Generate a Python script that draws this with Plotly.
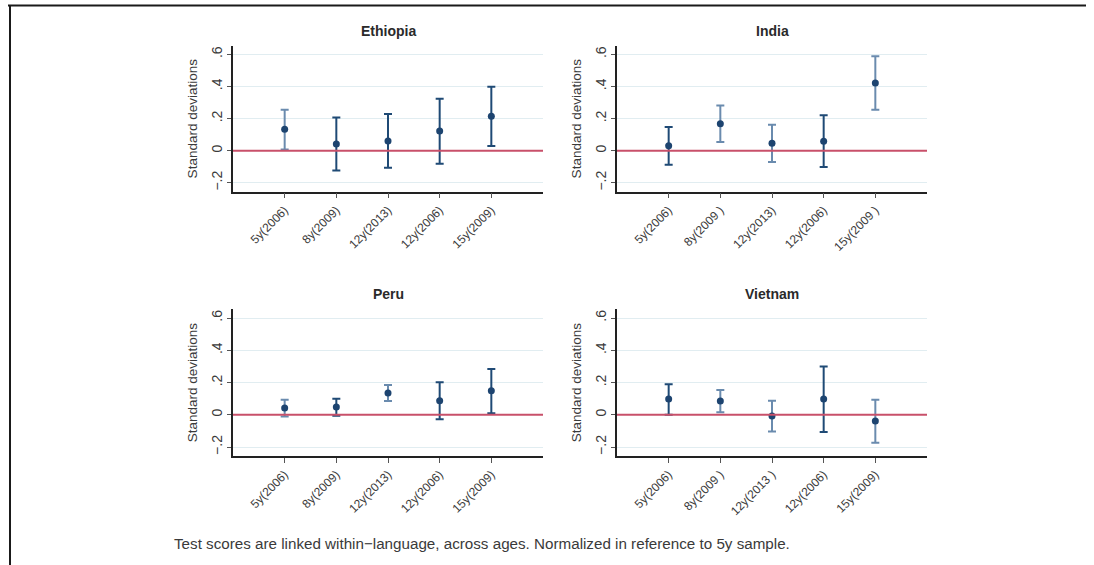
import plotly.graph_objects as go

countries = ["Ethiopia", "India", "Peru", "Vietnam"]

labels = {
    "Ethiopia": ["5y(2006)", "8y(2009)", "12y(2013)", "12y(2006)", "15y(2009)"],
    "India": ["5y(2006)", "8y(2009 )", "12y(2013)", "12y(2006)", "15y(2009 )"],
    "Peru": ["5y(2006)", "8y(2009)", "12y(2013)", "12y(2006)", "15y(2009)"],
    "Vietnam": ["5y(2006)", "8y(2009 )", "12y(2013 )", "12y(2006)", "15y(2009)"],
}

estimate = {
    "Ethiopia": [0.133, 0.042, 0.060, 0.123, 0.214],
    "India": [0.031, 0.168, 0.046, 0.058, 0.422],
    "Peru": [0.042, 0.048, 0.135, 0.087, 0.149],
    "Vietnam": [0.098, 0.085, -0.008, 0.098, -0.039],
}
upper = {
    "Ethiopia": [0.255, 0.206, 0.228, 0.324, 0.399],
    "India": [0.147, 0.282, 0.162, 0.220, 0.588],
    "Peru": [0.093, 0.100, 0.185, 0.201, 0.284],
    "Vietnam": [0.189, 0.154, 0.087, 0.299, 0.093],
}
lower = {
    "Ethiopia": [0.008, -0.123, -0.106, -0.081, 0.029],
    "India": [-0.087, 0.054, -0.071, -0.102, 0.255],
    "Peru": [-0.010, -0.006, 0.085, -0.027, 0.010],
    "Vietnam": [0.000, 0.015, -0.104, -0.106, -0.174],
}
# shade of each confidence bar (1 = lighter, 0 = darker)
light = {
    "Ethiopia": [1, 0, 0, 0, 0],
    "India": [0, 1, 1, 0, 1],
    "Peru": [1, 0, 1, 0, 0],
    "Vietnam": [0, 1, 1, 0, 1],
}

ytick_vals = [-0.2, 0, 0.2, 0.4, 0.6]
ytick_text = ["\u2212.2", "0", ".2", ".4", ".6"]
footnote = "Test scores are linked within\u2212language, across ages. Normalized in reference to 5y sample."

W, H = 1094, 565
# panel pixel boxes: (left, right, top, bottom)
boxes = {
    "Ethiopia": (233, 543, 45.7, 191.7),
    "India": (617, 927, 45.7, 191.7),
    "Peru": (233, 543, 309.3, 456),
    "Vietnam": (617, 927, 309.3, 456),
}

DARK = "#1f4a75"
LIGHT = "#6a8bae"
MARK = "#1d4470"
TXT = "#3a3a3a"
FONT = "Liberation Sans, Arial"

fig = go.Figure()
layout = {}
annotations = []
shapes = []

for i, c in enumerate(countries):
    n = "" if i == 0 else str(i + 1)
    xa, ya = "x" + n, "y" + n
    l, r, t, b = boxes[c]
    xs = [1, 2, 3, 4, 5]
    for shade, col in ((1, LIGHT), (0, DARK)):
        idx = [k for k in range(5) if light[c][k] == shade]
        if not idx:
            continue
        fig.add_trace(go.Scatter(
            x=[xs[k] for k in idx],
            y=[estimate[c][k] for k in idx],
            mode="markers",
            marker=dict(size=7, color=MARK, opacity=0),
            error_y=dict(type="data", symmetric=False,
                         array=[upper[c][k] - estimate[c][k] for k in idx],
                         arrayminus=[estimate[c][k] - lower[c][k] for k in idx],
                         color=col, thickness=2, width=4),
            xaxis=xa, yaxis=ya, showlegend=False, hoverinfo="skip"))
    fig.add_trace(go.Scatter(
        x=xs, y=estimate[c], mode="markers",
        marker=dict(size=7, color=MARK),
        xaxis=xa, yaxis=ya, showlegend=False))

    layout["xaxis" + n] = dict(
        domain=[l / W, r / W], anchor=ya, range=[0, 6],
        tickvals=xs, ticktext=labels[c], tickangle=-45,
        showgrid=False, zeroline=False, showline=True, linecolor="#222", linewidth=1.5,
        ticks="outside", ticklen=5, tickcolor="#555", tickwidth=1,
        tickfont=dict(family=FONT, size=12, color=TXT))
    layout["yaxis" + n] = dict(
        domain=[1 - b / H, 1 - t / H], anchor=xa, range=[-0.2555, 0.654],
        tickvals=ytick_vals, ticktext=ytick_text, tickangle=-90,
        showgrid=True, gridcolor="#e1edf1", gridwidth=1.2, zeroline=False,
        showline=True, linecolor="#222", linewidth=1.5,
        ticks="outside", ticklen=4, tickcolor="#555", tickwidth=1,
        tickfont=dict(family=FONT, size=14, color=TXT),
        title=dict(text="Standard deviations", standoff=8,
                   font=dict(family=FONT, size=13.5, color=TXT)))
    shapes.append(dict(type="line", xref=xa + " domain", yref=ya,
                       x0=0, x1=1, y0=0, y1=0,
                       line=dict(color="#c8506a", width=2), layer="above"))
    annotations.append(dict(
        text="<b>" + c + "</b>", xref="paper", yref="paper",
        x=(l + r) / 2 / W, y=1 - (t - 15) / H, showarrow=False,
        xanchor="center", yanchor="middle",
        font=dict(family="Liberation Sans Narrow, Arial Narrow, Liberation Sans", size=14, color="#2a2a2a")))

annotations.append(dict(
    text=footnote, xref="paper", yref="paper", x=172 / W, y=1 - 543 / H,
    xanchor="left", yanchor="middle", showarrow=False,
    font=dict(family=FONT, size=15.2, color=TXT)))

# outer frame (top and left edges)
shapes.append(dict(type="line", xref="paper", yref="paper",
                   x0=8 / W, x1=1086 / W, y0=1 - 5.5 / H, y1=1 - 5.5 / H,
                   line=dict(color="#1a1a1a", width=2)))
shapes.append(dict(type="line", xref="paper", yref="paper",
                   x0=10 / W, x1=10 / W, y0=1 - 5.5 / H, y1=0,
                   line=dict(color="#1a1a1a", width=2)))

fig.update_layout(
    width=W, height=H, margin=dict(l=0, r=0, t=0, b=0),
    paper_bgcolor="white", plot_bgcolor="white",
    annotations=annotations, shapes=shapes, **layout)

fig.write_html("out.html", config={"displayModeBar": False},
               post_script="document.body.style.margin='0';document.body.style.overflow='hidden';")
